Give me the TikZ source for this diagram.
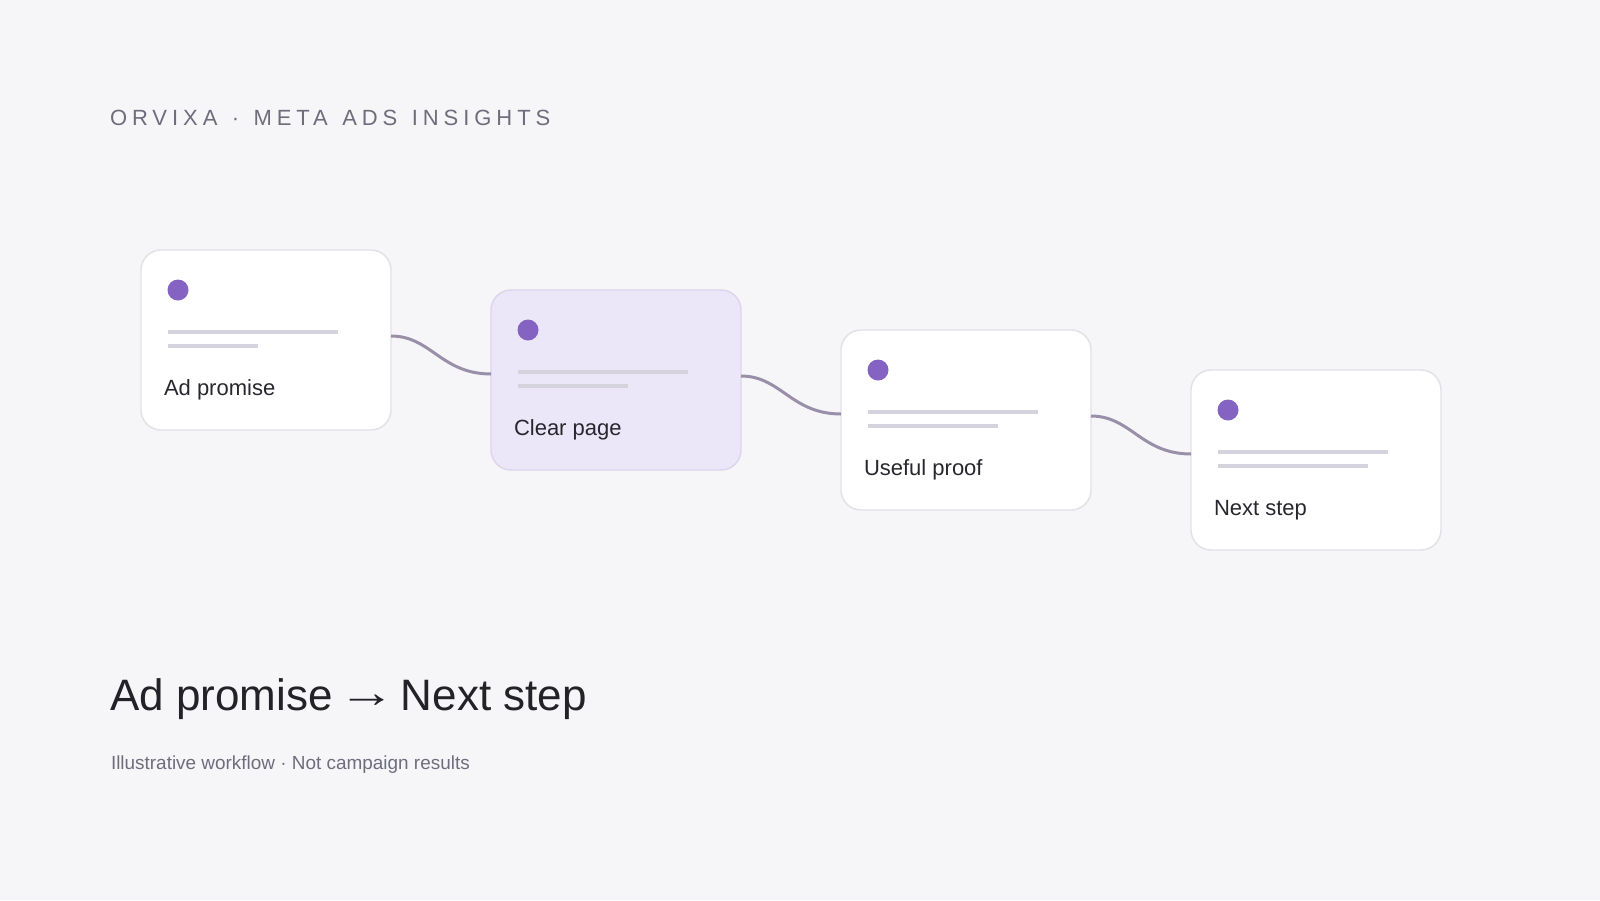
\documentclass[tikz,border=0pt]{standalone}
\usepackage{graphicx}
\usepackage{fontspec}
\setmainfont{Liberation Sans}
\newfontfamily\trackedfont[LetterSpace=22.5,WordSpace=1.3]{Liberation Sans}
\usepackage{tikz}
\usetikzlibrary{positioning}
\usetikzlibrary{calc}

\definecolor{bgcol}{HTML}{F6F6F9}
\definecolor{cardline}{HTML}{E2E1E8}
\definecolor{cardhi}{HTML}{ECE7F8}
\definecolor{cardhiline}{HTML}{DCD5EE}
\definecolor{dotcol}{HTML}{8463C3}
\definecolor{barcol}{HTML}{D5D3DE}
\definecolor{linkcol}{HTML}{9A8FA8}
\definecolor{mutedcol}{HTML}{6E6D7C}
\definecolor{headcol}{HTML}{222228}
\definecolor{labelcol}{HTML}{28272E}

\newcommand{\longarrow}{\kern-0.15em\raisebox{2pt}{\scalebox{1.3}[1]{→}}\kern-0.15em}

\tikzset{
  card/.style={draw=cardline, line width=1.1pt, fill=white, rounded corners=15pt, minimum width=187.5pt, minimum height=135pt, inner sep=0pt},
  activecard/.style={card, fill=cardhi, draw=cardhiline},
  dot/.style={circle, fill=dotcol, minimum size=15.75pt, inner sep=0pt},
  bar/.style={draw=barcol, line width=3pt},
  flow/.style={draw=linkcol, line width=2.25pt},
  cardlabel/.style={anchor=base west, inner sep=0pt, font=\fontsize{16.5}{19}\selectfont, text=labelcol},
}

\begin{document}
\begin{tikzpicture}[x=0.75pt,y=-0.75pt,node distance=0pt,outer sep=0pt]

\fill[bgcol] (0,0) rectangle (1600,900);

% Header
\node [anchor=base west, inner sep=0pt, font=\trackedfont\fontsize{16.5}{20}\selectfont, text=mutedcol] (brand) at (110,125) {ORVIXA · META ADS INSIGHTS};

% Cards
\node [card, anchor=north west] (promise) at (141,250) {};
\node [activecard, right=75pt of promise, yshift=-30pt] (page) {};
\node [card, right=75pt of page, yshift=-30pt] (proof) {};
\node [card, right=75pt of proof, yshift=-30pt] (next) {};

% Card contents
\node [dot] (promise_dot) at ($(promise.north west)+(37,40)$) {};
\draw [bar] ($(promise.north west)+(27,82)$) -- ++(170,0);
\draw [bar] ($(promise.north west)+(27,96)$) -- ++(90,0);
\node [cardlabel] (promise_text) at ($(promise.north west)+(23,145)$) {Ad promise};

\node [dot] (page_dot) at ($(page.north west)+(37,40)$) {};
\draw [bar] ($(page.north west)+(27,82)$) -- ++(170,0);
\draw [bar] ($(page.north west)+(27,96)$) -- ++(110,0);
\node [cardlabel] (page_text) at ($(page.north west)+(23,145)$) {Clear page};

\node [dot] (proof_dot) at ($(proof.north west)+(37,40)$) {};
\draw [bar] ($(proof.north west)+(27,82)$) -- ++(170,0);
\draw [bar] ($(proof.north west)+(27,96)$) -- ++(130,0);
\node [cardlabel] (proof_text) at ($(proof.north west)+(23,145)$) {Useful proof};

\node [dot] (next_dot) at ($(next.north west)+(37,40)$) {};
\draw [bar] ($(next.north west)+(27,82)$) -- ++(170,0);
\draw [bar] ($(next.north west)+(27,96)$) -- ++(150,0);
\node [cardlabel] (next_text) at ($(next.north west)+(23,145)$) {Next step};

% Connectors
\draw [flow] ([yshift=3pt]promise.east) .. controls +(40,0) and +(-50,0) .. ([yshift=4.5pt]page.west);
\draw [flow] ([yshift=3pt]page.east) .. controls +(40,0) and +(-50,0) .. ([yshift=4.5pt]proof.west);
\draw [flow] ([yshift=3pt]proof.east) .. controls +(40,0) and +(-50,0) .. ([yshift=4.5pt]next.west);

% Footer
\node [anchor=base west, inner sep=0pt, font=\fontsize{33}{40}\selectfont, text=headcol] (headline) at (110,710) {Ad promise \longarrow{} Next step};
\node [anchor=base west, inner sep=0pt, font=\fontsize{14.2}{17}\selectfont, text=mutedcol] (note) at (111,769) {Illustrative workflow · Not campaign results};

\end{tikzpicture}
\end{document}
